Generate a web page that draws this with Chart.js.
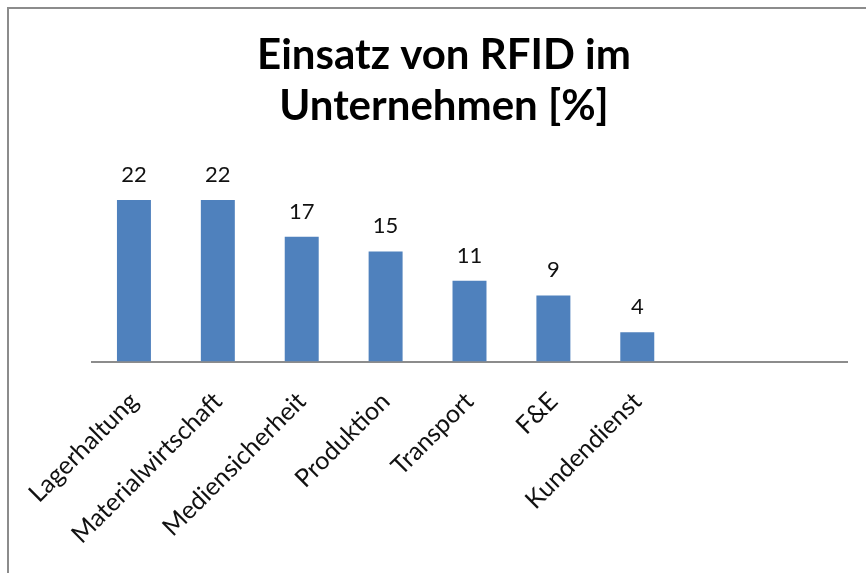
<!DOCTYPE html>
<html>
<head>
<meta charset="utf-8">
<script src="https://cdn.jsdelivr.net/npm/chart.js@4/dist/chart.umd.min.js"></script>
<style>
  html, body { margin: 0; padding: 0; background: #fff; }
  #wrap { position: absolute; left: 0; top: 0; width: 866px; height: 573px; }
  #frame {
    position: absolute; left: 7px; top: 7px; width: 900px; height: 600px;
    border-left: 2px solid #8c8c8c; border-top: 2px solid #8c8c8c;
    pointer-events: none;
  }
</style>
</head>
<body>
<div id="wrap">
  <canvas id="chart" width="866" height="573"></canvas>
  <div id="frame"></div>
</div>
<script>
const categories = ['Lagerhaltung', 'Materialwirtschaft', 'Mediensicherheit', 'Produktion', 'Transport', 'F&E', 'Kundendienst', '', ''];
const values = [22, 22, 17, 15, 11, 9, 4, null, null];
const titleLines = ['Einsatz von RFID im', 'Unternehmen [%]'];

const FONT = 'Lato, "Open Sans", sans-serif';

// value labels above the bars
const valueLabels = {
  id: 'valueLabels',
  afterDatasetsDraw(chart) {
    const ctx = chart.ctx;
    const meta = chart.getDatasetMeta(0);
    ctx.save();
    ctx.font = '22px ' + FONT;
    ctx.fillStyle = '#111';
    ctx.textAlign = 'center';
    ctx.textBaseline = 'alphabetic';
    meta.data.forEach((bar, i) => {
      if (values[i] == null) return;
      ctx.fillText(String(values[i]), bar.x, bar.y - 18);
    });
    ctx.restore();
  }
};

// title centred on the whole frame, not on the plot area
const frameTitle = {
  id: 'frameTitle',
  afterDraw(chart) {
    const ctx = chart.ctx;
    ctx.save();
    ctx.font = 'bold 42px ' + FONT;
    ctx.fillStyle = '#000';
    ctx.textAlign = 'center';
    ctx.textBaseline = 'alphabetic';
    titleLines.forEach((line, i) => ctx.fillText(line, 444, 69 + i * 51));
    ctx.restore();
  }
};

new Chart(document.getElementById('chart').getContext('2d'), {
  type: 'bar',
  data: {
    labels: categories,
    datasets: [{
      data: values,
      backgroundColor: '#4f81bd',
      borderWidth: 0,
      categoryPercentage: 1,
      barPercentage: 0.405
    }]
  },
  options: {
    responsive: false,
    animation: false,
    layout: { padding: { left: 92, right: 19, top: 178, bottom: 28 } },
    plugins: {
      legend: { display: false },
      tooltip: { enabled: false },
      title: { display: false }
    },
    scales: {
      x: {
        grid: { display: false },
        border: { display: true, color: '#8c8c8c', width: 2 },
        ticks: {
          color: '#111',
          font: { family: FONT, size: 25 },
          minRotation: 45,
          maxRotation: 45,
          autoSkip: false,
          padding: 17
        }
      },
      y: {
        display: false,
        min: 0,
        max: 25
      }
    }
  },
  plugins: [valueLabels, frameTitle]
});
</script>
</body>
</html>
